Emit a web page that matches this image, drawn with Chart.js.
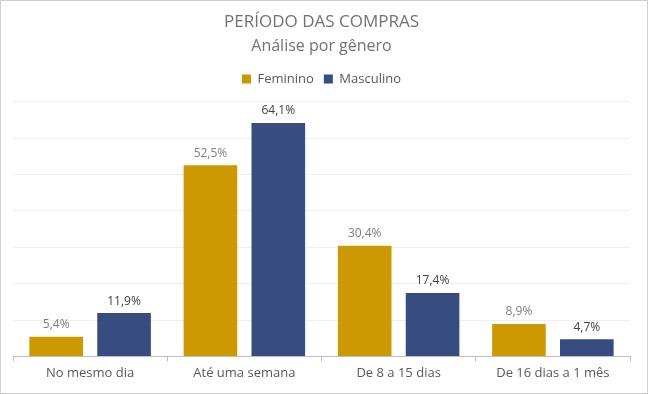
<!DOCTYPE html>
<html><head><meta charset="utf-8">
<script src="https://cdn.jsdelivr.net/npm/chart.js@4/dist/chart.umd.min.js"></script>
<style>
html,body{margin:0;padding:0;background:#fff;}
#wrap{width:648px;height:394px;box-sizing:border-box;border:1px solid #d0d0d0;position:relative;}
canvas{display:block;}
</style></head>
<body>
<div id="wrap"><canvas id="c" width="646" height="392"></canvas></div>
<script>
const categories = ["No mesmo dia", "Até uma semana", "De 8 a 15 dias", "De 16 dias a 1 mês"];
const feminino = [5.4, 52.5, 30.4, 8.9];
const masculino = [11.9, 64.1, 17.4, 4.7];
const seriesNames = ["Feminino", "Masculino"];
const titleText = "PERÍODO DAS COMPRAS";
const subtitleText = "Análise por gênero";

const FONT = "'Open Sans', 'Liberation Sans', sans-serif";
const labelColors = ["#7f7f7f", "#404040"];

const valueLabels = {
  id: 'valueLabels',
  afterDatasetsDraw(chart) {
    const ctx = chart.ctx;
    ctx.save();
    ctx.font = "12px " + FONT;
    ctx.textAlign = "center";
    ctx.textBaseline = "bottom";
    chart.data.datasets.forEach((ds, di) => {
      const meta = chart.getDatasetMeta(di);
      ctx.fillStyle = labelColors[di];
      meta.data.forEach((bar, i) => {
        const txt = ds.data[i].toFixed(1).replace('.', ',') + '%';
        ctx.fillText(txt, bar.x, bar.y - 6);
      });
    });
    ctx.restore();
  }
};

const legendGap = {
  id: 'legendGap',
  beforeInit(chart) {
    const orig = chart.legend.fit;
    chart.legend.fit = function () {
      orig.call(this);
      this.height += 6;
    };
  }
};

new Chart(document.getElementById('c'), {
  type: 'bar',
  data: {
    labels: categories,
    datasets: [
      { label: seriesNames[0], data: feminino, backgroundColor: '#CC9900' },
      { label: seriesNames[1], data: masculino, backgroundColor: '#374C80' }
    ]
  },
  options: {
    responsive: false,
    animation: false,
    devicePixelRatio: 1,
    layout: { padding: { left: 12, right: 17, top: 7, bottom: 8 } },
    datasets: { bar: { categoryPercentage: 0.88, barPercentage: 0.79 } },
    plugins: {
      title: { display: true, text: titleText, color: '#767171', font: { family: FONT, size: 17, weight: 'normal' }, padding: { top: 4, bottom: 4 } },
      subtitle: { display: true, text: subtitleText, color: '#767171', font: { family: FONT, size: 16, weight: 'normal' }, padding: { top: 0, bottom: 7 } },
      legend: { display: true, position: 'top', labels: { boxWidth: 9, boxHeight: 9, color: '#595959', font: { family: FONT, size: 13 }, padding: 10 } },
      tooltip: { enabled: false }
    },
    scales: {
      x: {
        grid: { display: true, drawOnChartArea: false, drawTicks: true, tickLength: 5, tickColor: '#bfbfbf' },
        border: { display: true, color: '#bfbfbf' },
        ticks: { color: '#595959', font: { family: FONT, size: 13 }, padding: 4 }
      },
      y: {
        min: 0, max: 70,
        ticks: { display: false, stepSize: 10 },
        grid: { color: '#efefef', drawTicks: false },
        border: { display: false }
      }
    }
  },
  plugins: [valueLabels, legendGap]
});
</script>
</body></html>
